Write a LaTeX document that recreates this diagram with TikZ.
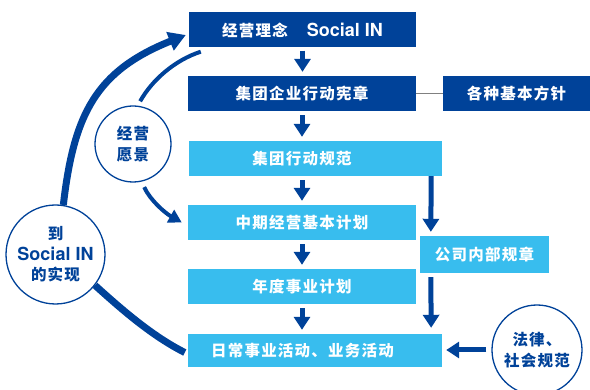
\documentclass[tikz,border=0pt]{standalone}
\usepackage{fontspec}
\usetikzlibrary{arrows.meta}
\newfontfamily\cjk{Noto Sans CJK SC}[LetterSpace=8]
\newfontfamily\lat{TeX Gyre Heros}
\definecolor{dblue}{HTML}{004299}
\definecolor{lblue}{HTML}{38BDEE}
\definecolor{lgray}{HTML}{808080}
\begin{document}
\begin{tikzpicture}[x=1pt,y=-1pt,
  box/.style={rectangle, inner sep=0pt, minimum height=35pt, text=white,
    font=\fontsize{15.5}{18}\selectfont\cjk\bfseries},
  dbox/.style={box, fill=dblue},
  lbox/.style={box, fill=lblue},
  btext/.style={inner sep=0pt, text=white, font=\fontsize{15.5}{18}\selectfont\cjk\bfseries},
  circ/.style={circle, draw=dblue, line width=1.3pt, fill=white, text=dblue,
    align=center, inner sep=0pt, font=\fontsize{15.5}{20.5}\selectfont\cjk\bfseries},
  darr/.style={draw=dblue, line width=5pt, -{Triangle[length=13pt,width=16pt]}},
  bigarc/.style={draw=dblue, line width=7pt},
  thinarc/.style={draw=dblue, line width=4pt}
]
\useasboundingbox (0,0) rectangle (590,390);

% boxes
\node[dbox, minimum width=227pt] (b1) at (302.5,30) {经营理念\hspace{19pt}{\lat\bfseries\fontsize{18}{20}\selectfont Social IN}};
\node[dbox, minimum width=228pt] (b2) at (302,93.5) {集团企业行动宪章};
\node[dbox, minimum width=147pt] (b2r) at (516.5,93.5) {各种基本方针};
\node[lbox, minimum width=253pt] (b3) at (315.5,158.5) {};
\node[btext] (t3) at (302,158.5) {集团行动规范};
\node[lbox, minimum width=228pt] (b4) at (302,222.5) {中期经营基本计划};
\node[lbox, minimum width=129pt, minimum height=37pt] (b4r) at (484.5,254.5) {公司内部规章};
\node[lbox, minimum width=228pt] (b5) at (302,286.5) {年度事业计划};
\node[lbox, minimum width=254pt, minimum height=33pt] (b6) at (315,350.5) {};
\node[btext] (t6) at (302.5,350.5) {日常事业活动、业务活动};

% circles
\node[circ, minimum size=76pt] (c1) at (133,144) {经营\\愿景};
\node[circ, minimum size=99pt] (c2) at (55.5,254.5) {到\\{\lat\bfseries\fontsize{18}{20}\selectfont Social IN}\\的实现};
\node[circ, minimum size=90pt] (c3) at (537,350) {法律、\\社会规范};

% gray connector
\draw[lgray, line width=1.5pt] (b2.east) -- (b2r.west);

% main down arrows
\draw[darr, shorten <=3pt, shorten >=4pt] (b1.south) -- (b1.south |- b2.north);
\draw[darr, shorten <=4pt, shorten >=4pt] (b2.south) -- (b2.south |- b3.north);
\draw[darr, shorten <=4pt, shorten >=4pt] (t3 |- b3.south) -- (b4.north);
\draw[darr, shorten <=4pt, shorten >=4pt] (b4.south) -- (b5.north);
\draw[darr, shorten <=4pt, shorten >=4pt] (b5.south) -- (b5.south |- b6.north);

% right column arrows
\draw[darr, shorten >=4pt] ([xshift=-11pt]b3.south east) -- ([xshift=11pt]b4r.north west);
\draw[darr, shorten <=4pt, shorten >=6pt] ([xshift=11pt]b4r.south west) -- ([xshift=-11pt]b6.north east);
\draw[darr, shorten <=5pt, shorten >=4pt] (c3.west) -- (b6.east |- c3.west);

% outer arcs
\draw[bigarc, -{Triangle[length=17pt,width=19pt]}] (c2.81) .. controls (73.8,114) and (96,71) .. ([xshift=-3pt,yshift=-5pt]b1.west);
\draw[bigarc] (c2.-38) .. controls (118,306) and (150,335) .. ([xshift=-3pt,yshift=-2pt]b6.west);

% inner arcs
\draw[thinarc, shorten <=5pt] (c1.83) .. controls (152,80) and (175,60) .. ([xshift=12pt,yshift=-4pt]b1.south west);
\draw[thinarc, shorten <=6pt, -{Triangle[length=13pt,width=14pt]}] (c1.-77) .. controls (150,200) and (165,213) .. ([xshift=-6pt]b4.west);
\end{tikzpicture}
\end{document}
